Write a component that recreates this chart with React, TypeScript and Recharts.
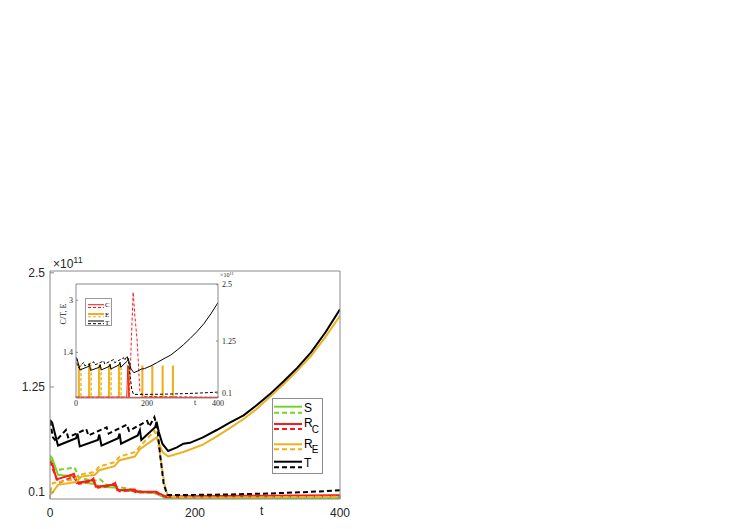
import { ComposedChart, Line, Area, XAxis, YAxis } from 'recharts';

const GREEN  = '#77d42a';
const RED    = '#ff1a1a';
const ORANGE = '#edb120';
const BLACK  = '#000000';
const AXIS   = '#8a8a8a';
const SANS   = '"Liberation Sans", Arial, sans-serif';
const SERIF  = '"Liberation Serif", "Times New Roman", serif';

// main plot, values in units of 1e11
const tS  = [0, 3, 11, 34, 39, 62, 67, 90, 95, 118, 123, 145, 150, 158, 200, 300, 400];
const sS  = [0.50, 0.47, 0.29, 0.27, 0.21, 0.19, 0.16, 0.15, 0.12, 0.11, 0.10, 0.09, 0.07, 0.04, 0.035, 0.035, 0.04];
const tSd = [0, 4, 9, 34, 40, 60, 69, 78, 106, 133, 150, 158, 200, 300, 400];
const sSd = [0.47, 0.40, 0.34, 0.37, 0.26, 0.22, 0.24, 0.18, 0.14, 0.10, 0.08, 0.04, 0.03, 0.03, 0.03];

const tRc  = [0, 3, 9, 30, 33, 37, 57, 60, 63, 87, 90, 93, 117, 120, 147, 152, 160, 200, 300, 400];
const rc   = [0.43, 0.41, 0.24, 0.29, 0.30, 0.20, 0.23, 0.25, 0.16, 0.18, 0.20, 0.12, 0.13, 0.105, 0.105, 0.08, 0.05, 0.055, 0.06, 0.065];
const tRcd = [0, 4, 12, 27, 31, 40, 55, 58, 66, 84, 87, 96, 114, 118, 145, 152, 160, 400];
const rcd  = [0.44, 0.35, 0.20, 0.25, 0.28, 0.19, 0.22, 0.24, 0.15, 0.17, 0.19, 0.11, 0.12, 0.10, 0.10, 0.07, 0.05, 0.06];

const tRe  = [0, 4, 11, 36, 43, 62, 68, 89, 96, 117, 124, 147, 150, 155, 163, 184, 211, 230, 248, 267, 285, 303, 322, 341, 360, 380, 400];
const re   = [0.07, 0.10, 0.18, 0.21, 0.27, 0.29, 0.34, 0.385, 0.45, 0.49, 0.57, 0.70, 0.64, 0.54, 0.49, 0.54, 0.62, 0.71, 0.80, 0.90, 1.01, 1.14, 1.28, 1.43, 1.59, 1.80, 2.03];
const tRed = [0, 4, 34, 40, 62, 68, 90, 96, 118, 124, 144, 148, 152, 158, 163, 200, 300, 400];
const red  = [0.10, 0.20, 0.24, 0.29, 0.32, 0.38, 0.43, 0.49, 0.54, 0.60, 0.77, 0.70, 0.50, 0.18, 0.05, 0.04, 0.045, 0.05];

const tT  = [0, 3, 11, 36, 38, 41, 66, 68, 71, 94, 96, 98, 121, 124, 126, 145, 147, 150, 155, 163, 175, 184, 193, 211, 230, 248, 267, 285, 303, 322, 341, 360, 380, 400];
const T   = [0.89, 0.86, 0.61, 0.69, 0.74, 0.60, 0.67, 0.73, 0.61, 0.69, 0.74, 0.63, 0.72, 0.78, 0.67, 0.81, 0.87, 0.76, 0.63, 0.55, 0.59, 0.63, 0.64, 0.70, 0.78, 0.86, 0.94, 1.05, 1.17, 1.31, 1.46, 1.63, 1.85, 2.10];
const tTd = [0, 4, 8, 22, 25, 50, 53, 78, 81, 106, 109, 134, 137, 144, 148, 152, 157, 162, 200, 250, 300, 350, 400];
const Td  = [0.88, 0.70, 0.66, 0.78, 0.70, 0.79, 0.72, 0.81, 0.74, 0.84, 0.77, 0.88, 0.82, 0.92, 0.80, 0.50, 0.18, 0.07, 0.07, 0.075, 0.085, 0.10, 0.12];

// inset: C and E on the left axis, T on the right axis
const tC  = [0, 143, 146, 149, 152, 400];
const C   = [0.03, 0.03, 1.0, 0.03, 0.02, 0.02];
const tCd = [0, 150, 155, 161, 166, 172, 180, 190, 400];
const Cd  = [0.02, 0.02, 1.5, 3.25, 2.5, 1.8, 0.2, 0.05, 0.02];

const eOn      = [5, 34, 62, 90, 118, 146, 184, 212, 241, 270];
const eOff     = [11, 40, 68, 96, 124, 152, 190, 218, 247, 276];
const eOnDash  = [9, 38, 66, 94, 122];
const eOffDash = [14, 43, 71, 99, 127];

const xTicks      = [0, 200, 400];
const yTicks      = [0.1, 1.25, 2.5];
const insetLTicks = [1.4, 3];

const zip = (ts: number[], vs: number[]) => ts.map((t, i) => ({ t, v: vs[i] }));
const pulses = (on: number[], off: number[]) => {
  const pts = [{ t: 0, v: 0 }];
  on.forEach((t, i) => { pts.push({ t, v: 1 }); pts.push({ t: off[i], v: 0 }); });
  pts.push({ t: 400, v: 0 });
  return pts;
};

const mainSeries = [
  { data: zip(tS, sS),    color: GREEN,  dash: undefined },
  { data: zip(tSd, sSd),  color: GREEN,  dash: '5 3' },
  { data: zip(tRc, rc),   color: RED,    dash: undefined },
  { data: zip(tRcd, rcd), color: RED,    dash: '5 3' },
  { data: zip(tRe, re),   color: ORANGE, dash: undefined },
  { data: zip(tRed, red), color: ORANGE, dash: '5 3' },
  { data: zip(tT, T),     color: BLACK,  dash: undefined },
  { data: zip(tTd, Td),   color: BLACK,  dash: '5 3' },
];

const mainTick  = { fill: '#262626', fontSize: 12, fontFamily: SANS };
const insetTick = { fill: '#262626', fontSize: 8, fontFamily: SERIF };

function LegendRow({ y1, y2, color, w = 2 }: { y1: number; y2: number; color: string; w?: number }) {
  return (
    <>
      <line x1={2} x2={30} y1={y1} y2={y1} stroke={color} strokeWidth={w} />
      <line x1={2} x2={30} y1={y2} y2={y2} stroke={color} strokeWidth={w} strokeDasharray="5 3" />
    </>
  );
}

export default function App() {
  return (
    <div style={{ position: 'fixed', left: 0, top: 0, width: 747, height: 529, background: '#fff', fontFamily: SANS }}>
      <div style={{ position: 'absolute', left: 0, top: 0 }}>
        <ComposedChart width={747} height={529} margin={{ top: 270, right: 406, bottom: 0, left: 0 }}>
          <XAxis type="number" dataKey="t" domain={[0, 400]} ticks={xTicks} height={30}
            tickSize={-4} tickMargin={13} stroke={AXIS} tick={mainTick} allowDataOverflow />
          <XAxis xAxisId="top" orientation="top" type="number" dataKey="t" domain={[0, 400]} ticks={xTicks}
            height={1} tickSize={-4} stroke={AXIS} tick={false} allowDataOverflow />
          <YAxis type="number" domain={[0.025, 2.52]} ticks={yTicks} width={50}
            tickSize={-4} tickMargin={9} stroke={AXIS} tick={mainTick} allowDataOverflow />
          <YAxis yAxisId="right" orientation="right" type="number" domain={[0.025, 2.52]} ticks={yTicks}
            width={1} tickSize={-4} stroke={AXIS} tick={false} allowDataOverflow />
          {mainSeries.map((s, i) => (
            <Line key={i} data={s.data} dataKey="v" type="linear" stroke={s.color} strokeWidth={2}
              strokeDasharray={s.dash} dot={false} activeDot={false} isAnimationActive={false} />
          ))}
        </ComposedChart>
      </div>

      <div style={{ position: 'absolute', left: 53, top: 258, fontSize: 12, lineHeight: '12px', color: '#262626' }}>
        ×10<span style={{ fontSize: 9, position: 'relative', top: -5 }}>11</span>
      </div>
      <div style={{ position: 'absolute', left: 260, top: 505, fontSize: 12, lineHeight: '12px', color: '#262626' }}>t</div>

      {/* main legend */}
      <div style={{ position: 'absolute', left: 272, top: 398, width: 51, height: 76, boxSizing: 'border-box',
        border: '1px solid #8c8c8c', background: '#fff' }}>
        <svg width={51} height={76} style={{ position: 'absolute', left: -1, top: -1 }}>
          <LegendRow y1={8.7} y2={14.7} color={GREEN} />
          <LegendRow y1={26} y2={31} color={RED} />
          <LegendRow y1={46.3} y2={51.3} color={ORANGE} />
          <LegendRow y1={63.7} y2={69.3} color={BLACK} />
          <g fontFamily={SANS} fill="#000">
            <text x={32} y={13.7} fontSize={12}>S</text>
            <text x={32} y={28.7} fontSize={12}>R</text>
            <text x={39.7} y={34.7} fontSize={10}>C</text>
            <text x={32} y={50.3} fontSize={12}>R</text>
            <text x={39.7} y={55.3} fontSize={10}>E</text>
            <text x={32} y={68.7} fontSize={12}>T</text>
          </g>
        </svg>
      </div>

      {/* inset */}
      <div style={{ position: 'absolute', left: 76, top: 284, width: 142, height: 114, background: '#fff' }} />
      <div style={{ position: 'absolute', left: 36, top: 270 }}>
        <ComposedChart width={220} height={140} margin={{ top: 13, right: 0, bottom: 0, left: 0 }}>
          <XAxis type="number" dataKey="t" domain={[0, 400]} ticks={xTicks} height={12}
            tickSize={-2} tickMargin={4} stroke={AXIS} tick={insetTick} allowDataOverflow />
          <XAxis xAxisId="top" orientation="top" type="number" dataKey="t" domain={[0, 400]} ticks={xTicks}
            height={1} tickSize={-2} stroke={AXIS} tick={false} allowDataOverflow />
          <YAxis yAxisId="left" type="number" domain={[0, 3.5]} ticks={insetLTicks} width={40}
            tickSize={-2} tickMargin={5} stroke={AXIS} tick={insetTick} allowDataOverflow />
          <YAxis yAxisId="right" orientation="right" type="number" domain={[-0.01, 2.51]} ticks={yTicks} width={38}
            tickSize={-2} tickMargin={6} stroke={AXIS} tick={insetTick} allowDataOverflow />
          <Area yAxisId="left" data={pulses(eOn, eOff)} dataKey="v" type="stepAfter" stroke="none"
            fill={ORANGE} fillOpacity={1} dot={false} activeDot={false} isAnimationActive={false} />
          <Line yAxisId="left" data={pulses(eOnDash, eOffDash)} dataKey="v" type="stepAfter" stroke="#efb930"
            strokeWidth={1.5} strokeDasharray="3 2" dot={false} activeDot={false} isAnimationActive={false} />
          <Line yAxisId="left" data={zip(tC, C)} dataKey="v" type="linear" stroke={RED} strokeWidth={1}
            dot={false} activeDot={false} isAnimationActive={false} />
          <Line yAxisId="left" data={zip(tCd, Cd)} dataKey="v" type="linear" stroke={RED} strokeWidth={1}
            strokeDasharray="3 2" dot={false} activeDot={false} isAnimationActive={false} />
          <Line yAxisId="right" data={zip(tT, T)} dataKey="v" type="linear" stroke={BLACK} strokeWidth={1}
            dot={false} activeDot={false} isAnimationActive={false} />
          <Line yAxisId="right" data={zip(tTd, Td)} dataKey="v" type="linear" stroke={BLACK} strokeWidth={1}
            strokeDasharray="3 2" dot={false} activeDot={false} isAnimationActive={false} />
        </ComposedChart>
      </div>

      <div style={{ position: 'absolute', left: 220, top: 272, fontSize: 6, lineHeight: '6px', fontFamily: SERIF, color: '#262626' }}>
        ×10<span style={{ fontSize: 4.5, position: 'relative', top: -2 }}>11</span>
      </div>
      <div style={{ position: 'absolute', left: 194, top: 399, fontSize: 8, lineHeight: '8px', fontFamily: SERIF, color: '#262626' }}>t</div>
      <div style={{ position: 'absolute', left: 64, top: 314, transform: 'translate(-50%, -50%) rotate(-90deg)',
        fontSize: 8, lineHeight: '8px', fontFamily: SERIF, color: '#262626', whiteSpace: 'nowrap' }}>
        C/T, E
      </div>

      {/* inset legend */}
      <div style={{ position: 'absolute', left: 85, top: 298, width: 27, height: 28, boxSizing: 'border-box',
        border: '1px solid #999', background: '#fff' }}>
        <svg width={27} height={28} style={{ position: 'absolute', left: -1, top: -1 }}>
          <line x1={3} x2={19} y1={6.7} y2={6.7} stroke={RED} strokeWidth={1} />
          <line x1={3} x2={19} y1={9.5} y2={9.5} stroke={RED} strokeWidth={1} strokeDasharray="3 2" />
          <line x1={3} x2={19} y1={16} y2={16} stroke={ORANGE} strokeWidth={2} />
          <line x1={3} x2={19} y1={18.8} y2={18.8} stroke={ORANGE} strokeWidth={1} strokeDasharray="3 2" />
          <line x1={3} x2={19} y1={23} y2={23} stroke={BLACK} strokeWidth={1} />
          <line x1={3} x2={19} y1={25.7} y2={25.7} stroke={BLACK} strokeWidth={1} strokeDasharray="3 2" />
          <g fontFamily={SERIF} fontSize={7} fill="#000">
            <text x={20} y={9}>C</text>
            <text x={20} y={18.5}>E</text>
            <text x={20} y={26.5}>T</text>
          </g>
        </svg>
      </div>
    </div>
  );
}
